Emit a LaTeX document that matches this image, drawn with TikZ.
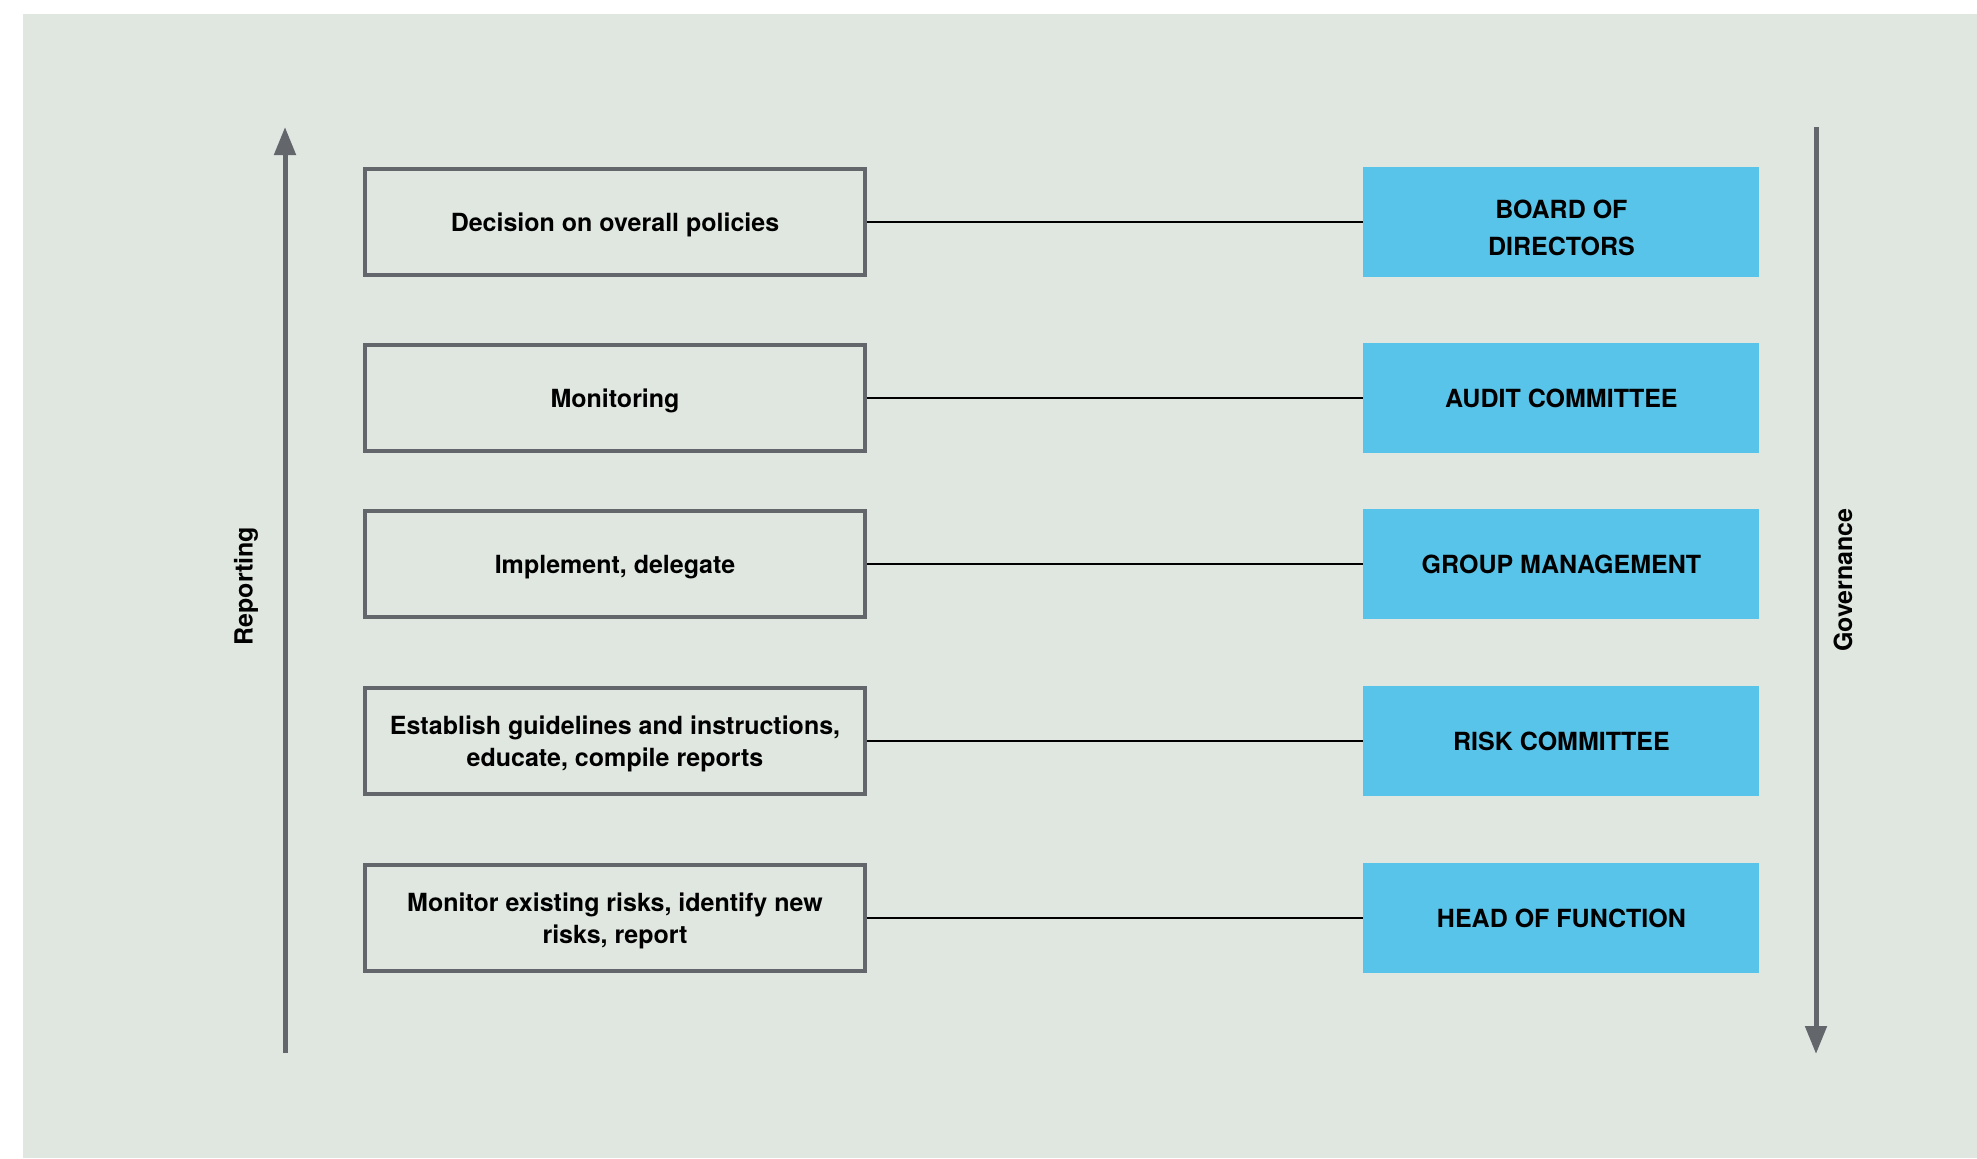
\documentclass[tikz,border=0pt]{standalone}
\usepackage{fontspec}
\setmainfont{TeX Gyre Heros}
\usetikzlibrary{positioning,arrows.meta}
\definecolor{bgmint}{RGB}{224,231,225}
\definecolor{boxgray}{RGB}{99,102,107}
\definecolor{skyblue}{RGB}{88,196,233}

\begin{document}
\begin{tikzpicture}[x=0.5pt,y=-0.5pt, font=\fontsize{12.5}{16}\selectfont\bfseries,
  duty/.style={draw=boxgray,line width=2pt,minimum width=250pt,minimum height=53pt,align=center,inner sep=0pt,text depth=0pt},
  body/.style={fill=skyblue,minimum width=198pt,minimum height=55pt,align=center,inner sep=0pt},
  flow/.style={draw=boxgray,line width=2.5pt,-{Triangle[width=10.5pt,length=14pt]}}]
  \useasboundingbox (0,0) rectangle (1977,1158);
  \fill[bgmint] (23,14) rectangle (1977,1158);
  % duties on the left
  \node[duty](p1) at (615,222){Decision on overall policies};
  \node[duty](p2) at (615,398){Monitoring};
  \node[duty](p3) at (615,564){Implement, delegate};
  \node[duty](p4) at (615,741){Establish guidelines and instructions,\\educate, compile reports};
  \node[duty](p5) at (615,918){Monitor existing risks, identify new\\risks, report};
  % bodies on the right
  \node[body,text height=33.5pt,right=248pt of p1](b1){BOARD OF\\[2.5pt]DIRECTORS};
  \node[body,right=248pt of p2](b2){AUDIT COMMITTEE};
  \node[body,right=248pt of p3](b3){GROUP MANAGEMENT};
  \node[body,right=248pt of p4](b4){RISK COMMITTEE};
  \node[body,right=248pt of p5](b5){HEAD OF FUNCTION};
  \foreach \i in {1,...,5}{\draw[line width=1.2pt](p\i)--(b\i);}
  % reporting goes up, governance goes down
  \coordinate(rep0) at (285,1053); \coordinate(rep1) at (285,127);
  \coordinate(gov0) at (1816,127); \coordinate(gov1) at (1816,1054);
  \draw[flow](rep0)--(rep1); \draw[flow](gov0)--(gov1);
  \node[rotate=90](rep) at (246,586){Reporting};
  \node[rotate=90](gov) at (1843,580){Governance};
\end{tikzpicture}
\end{document}
